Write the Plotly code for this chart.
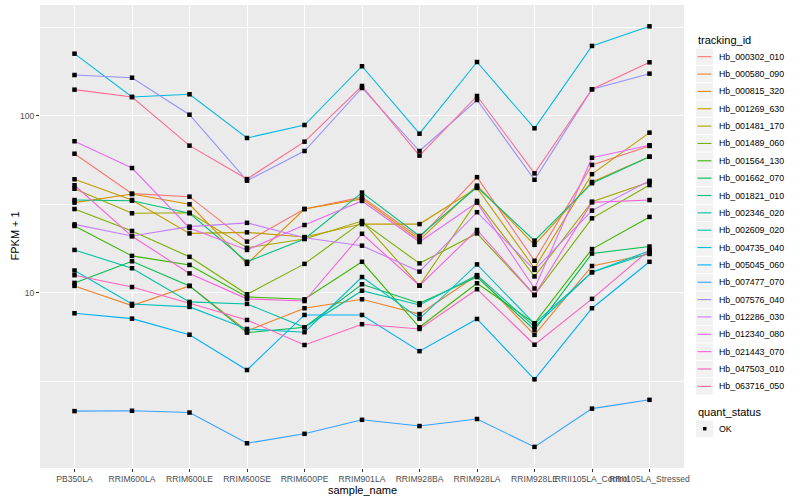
import plotly.graph_objects as go

samples = ["PB350LA", "RRIM600LA", "RRIM600LE", "RRIM600SE", "RRIM600PE", "RRIM901LA",
           "RRIM928BA", "RRIM928LA", "RRIM928LE", "RRII105LA_Control", "RRII105LA_Stressed"]

tracking_ids = ["Hb_000302_010", "Hb_000580_090", "Hb_000815_320", "Hb_001269_630",
                "Hb_001481_170", "Hb_001489_060", "Hb_001564_130", "Hb_001662_070",
                "Hb_001821_010", "Hb_002346_020", "Hb_002609_020", "Hb_004735_040",
                "Hb_005045_060", "Hb_007477_070", "Hb_007576_040", "Hb_012286_030",
                "Hb_012340_080", "Hb_021443_070", "Hb_047503_010", "Hb_063716_050"]

colors = ["#F8766D", "#EA8331", "#D89000", "#C09B00", "#A3A500", "#7CAE00", "#39B600",
          "#00BB4E", "#00BF7D", "#00C1A3", "#00BFC4", "#00BAE0", "#00B0F6", "#35A2FF",
          "#9590FF", "#C77CFF", "#E76BF3", "#FA62DB", "#FF62BC", "#FF6C91"]

# FPKM + 1 values per tracking id (one value per sample)
Hb_000302_010 = [61.2, 36.4, 35.0, 19.5, 29.8, 34.8, 20.5, 45.1, 15.2, 52.9, 67.7]
Hb_000580_090 = [10.96, 8.48, 10.96, 6.1, 8.2, 9.21, 7.6, 12.6, 5.8, 14.2, 16.6]
Hb_000815_320 = [32.4, 36.2, 31.7, 14.6, 29.8, 34.0, 19.9, 40.4, 18.7, 42.4, 58.9]
Hb_001269_630 = [43.9, 33.5, 21.7, 22.0, 20.7, 24.5, 24.5, 39.2, 13.8, 46.9, 80.5]
Hb_001481_170 = [38.8, 28.2, 28.4, 18.0, 20.2, 25.5, 11.0, 33.1, 12.4, 32.8, 42.4]
Hb_001489_060 = [29.8, 22.4, 16.0, 9.83, 14.6, 25.2, 14.7, 21.7, 9.74, 26.4, 40.7]
Hb_001564_130 = [23.9, 16.2, 14.4, 9.5, 9.21, 15.0, 6.4, 11.35, 6.74, 17.7, 26.9]
Hb_001662_070 = [11.4, 15.1, 10.96, 5.97, 6.4, 11.2, 8.75, 12.3, 6.18, 16.7, 18.3]
Hb_001821_010 = [33.5, 33.2, 28.2, 15.0, 20.2, 36.9, 21.0, 39.7, 19.75, 41.7, 58.9]
Hb_002346_020 = [17.5, 13.8, 8.9, 8.67, 6.4, 10.3, 8.55, 12.6, 6.45, 13.1, 16.8]
Hb_002609_020 = [13.4, 8.67, 8.34, 6.26, 6.0, 12.3, 7.16, 14.5, 6.7, 13.1, 17.3]
Hb_004735_040 = [224.9, 128.0, 132.6, 75.1, 88.9, 191.0, 79.4, 201.8, 85.2, 248.7, 321.0]
Hb_005045_060 = [7.68, 7.16, 5.81, 3.67, 7.51, 7.51, 4.69, 7.13, 3.25, 8.2, 15.0]
Hb_007477_070 = [2.15, 2.16, 2.11, 1.415, 1.60, 1.92, 1.77, 1.94, 1.35, 2.22, 2.49]
Hb_007576_040 = [170.4, 164.5, 101.7, 43.1, 63.4, 143.9, 63.4, 123.1, 43.6, 141.6, 173.4]
Hb_012286_030 = [24.4, 21.0, 23.7, 24.9, 20.5, 18.5, 13.2, 28.6, 13.5, 29.2, 43.0]
Hb_012340_080 = [72.0, 50.8, 23.3, 17.5, 24.2, 33.1, 19.4, 32.4, 10.6, 58.1, 68.3]
Hb_021443_070 = [40.6, 20.9, 12.9, 9.26, 9.0, 21.6, 11.0, 22.7, 9.74, 32.5, 33.5]
Hb_047503_010 = [12.6, 10.8, 8.75, 7.04, 5.08, 6.66, 6.26, 10.5, 5.1, 9.26, 17.5]
Hb_063716_050 = [140.8, 128.0, 68.0, 44.0, 71.6, 147.7, 59.7, 129.7, 47.4, 141.6, 201.0]

series = [Hb_000302_010, Hb_000580_090, Hb_000815_320, Hb_001269_630, Hb_001481_170,
          Hb_001489_060, Hb_001564_130, Hb_001662_070, Hb_001821_010, Hb_002346_020,
          Hb_002609_020, Hb_004735_040, Hb_005045_060, Hb_007477_070, Hb_007576_040,
          Hb_012286_030, Hb_012340_080, Hb_021443_070, Hb_047503_010, Hb_063716_050]

quant_status = ["OK"]

fig = go.Figure()
for name, col, vals in zip(tracking_ids, colors, series):
    fig.add_trace(go.Scatter(x=samples, y=vals, mode="lines", name=name,
                             line=dict(color=col, width=1.1), showlegend=False,
                             hoverinfo="skip"))

all_x, all_y = [], []
for vals in series:
    all_x += samples
    all_y += vals
fig.add_trace(go.Scatter(x=all_x, y=all_y, mode="markers", name=quant_status[0],
                         marker=dict(symbol="square", size=4.5, color="black",
                                     line=dict(width=0)),
                         showlegend=False))

W, H = 800, 500
L, R, T, B = 40, 684, 5, 468


def px(x):
    return (x - L) / (R - L)


def py(y):
    return (B - y) / (B - T)


shapes, annotations = [], []
font_family = "Liberation Sans, Arial, sans-serif"

annotations.append(dict(text="tracking_id", x=px(696), y=py(39.5), xref="paper", yref="paper",
                        xanchor="left", yanchor="middle", showarrow=False,
                        font=dict(size=11, color="black")))
step = 17.35
for i, (name, col) in enumerate(zip(tracking_ids, colors)):
    yc = 56.7 + i * step
    shapes.append(dict(type="rect", xref="paper", yref="paper",
                       x0=px(696), x1=px(713), y0=py(yc - step / 2 + 0.5), y1=py(yc + step / 2 - 0.5),
                       fillcolor="#F2F2F2", line=dict(width=0)))
    shapes.append(dict(type="line", xref="paper", yref="paper",
                       x0=px(697.5), x1=px(711.5), y0=py(yc), y1=py(yc),
                       line=dict(color=col, width=1.1)))
    annotations.append(dict(text=name, x=px(716.5), y=py(yc), xref="paper", yref="paper",
                            xanchor="left", yanchor="middle", showarrow=False,
                            font=dict(size=8.8, color="black")))

annotations.append(dict(text="quant_status", x=px(696), y=py(411.7), xref="paper", yref="paper",
                        xanchor="left", yanchor="middle", showarrow=False,
                        font=dict(size=11, color="black")))
yc = 428.7
shapes.append(dict(type="rect", xref="paper", yref="paper",
                   x0=px(696), x1=px(713), y0=py(yc - 8.2), y1=py(yc + 8.2),
                   fillcolor="#F2F2F2", line=dict(width=0)))
shapes.append(dict(type="rect", xref="paper", yref="paper",
                   x0=px(703), x1=px(706.5), y0=py(yc - 1.75), y1=py(yc + 1.75),
                   fillcolor="black", line=dict(width=0)))
annotations.append(dict(text=quant_status[0], x=px(716.5), y=py(yc), xref="paper", yref="paper",
                        xanchor="left", yanchor="middle", showarrow=False,
                        font=dict(size=8.8, color="black")))

# axis titles
annotations.append(dict(text="sample_name", x=0.5, y=py(490), xref="paper", yref="paper",
                        xanchor="center", yanchor="middle", showarrow=False,
                        font=dict(size=11, color="black")))
annotations.append(dict(text="FPKM + 1", x=px(14), y=0.5, xref="paper", yref="paper",
                        xanchor="center", yanchor="middle", showarrow=False, textangle=-90,
                        font=dict(size=11, color="black")))

fig.update_layout(
    width=W, height=H,
    margin=dict(l=L, r=W - R, t=T, b=H - B, pad=0),
    paper_bgcolor="white", plot_bgcolor="#EBEBEB",
    font=dict(family=font_family, size=9, color="#4D4D4D"),
    showlegend=False,
    shapes=shapes, annotations=annotations,
    xaxis=dict(type="category", categoryorder="array", categoryarray=samples,
               range=[-0.6, len(samples) - 0.4], showgrid=True, gridcolor="white", gridwidth=1.1,
               ticks="outside", ticklen=3, tickwidth=1, tickcolor="#333333", tickangle=0,
               tickfont=dict(size=8.6, color="#4D4D4D"), zeroline=False, showline=False,
               automargin=False),
    yaxis=dict(type="log", range=[0.011, 2.627], tickvals=[10, 100], ticktext=["10", "100"],
               showgrid=True, gridcolor="white", gridwidth=1.1,
               minor=dict(tickvals=[10 ** 0.5, 10 ** 1.5, 10 ** 2.5], showgrid=True,
                          gridcolor="white", gridwidth=0.55, ticklen=0),
               ticks="outside", ticklen=3, tickwidth=1, tickcolor="#333333",
               tickfont=dict(size=8.6, color="#4D4D4D"), zeroline=False, showline=False,
               automargin=False),
)

fig.write_html("out.html", config={"displayModeBar": False},
               post_script="document.body.style.margin='0';document.body.style.padding='0';")
